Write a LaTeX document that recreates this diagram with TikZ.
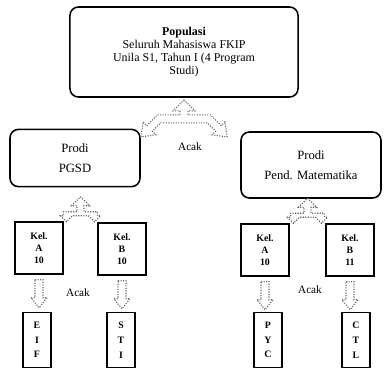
\documentclass[tikz,border=0pt]{standalone}
\usepackage{fontspec}
\setmainfont{Liberation Serif}
\usetikzlibrary{arrows.meta,positioning,calc}

\begin{document}
\begin{tikzpicture}[x=0.025cm, y=-0.025cm,
  popbox/.style={draw, line width=1.1pt, rounded corners=6pt, minimum width=5.7cm,
    minimum height=2.25cm, align=center, font=\fontsize{8.5}{9.3}\selectfont, inner sep=2pt},
  prodi/.style={draw, line width=1.1pt, rounded corners=6pt, align=center,
    font=\fontsize{9}{14}\selectfont, inner sep=2pt},
  kel/.style={draw, line width=1pt, minimum width=1.2cm, minimum height=1.3cm,
    align=center, font=\fontsize{7}{8.5}\selectfont\bfseries, inner sep=1pt},
  grp/.style={draw, line width=1.1pt, minimum width=0.7cm, minimum height=1.38cm,
    align=center, font=\fontsize{7}{10.5}\selectfont\bfseries, inner sep=1pt},
  hollow/.style={draw=black!60, densely dotted, line width=0.8pt, fill=white},
  lbl/.style={font=\fontsize{8}{9}\selectfont},
  dnarr/.pic={\draw[hollow] (-4,0) -- (4,0) -- (4,18) -- (8,18) -- (0,28)
    -- (-8,18) -- (-4,18) -- cycle;},
  splitarr/.pic={\draw[hollow] (0,0) -- (9,9) -- (3.5,9) -- (3.5,15) -- (17,15)
    -- (17,19) -- (20,19) -- (14,25) -- (8,19) -- (-8,19) -- (-14,25) -- (-20,19)
    -- (-17,19) -- (-17,15) -- (-3.5,15) -- (-3.5,9) -- (-9,9) -- cycle;},
  triarr/.pic={\draw[hollow] (0,0) -- (11,11) -- (4,11) -- (4,15) -- (26.6,15)
    -- (37.3,25.7) -- (40.9,22.1) -- (43,37) -- (28.1,34.9) -- (31.7,31.3)
    -- (23.4,23) -- (-23.4,23) -- (-31.7,31.3) -- (-28.1,34.9) -- (-43,37)
    -- (-40.9,22.1) -- (-37.3,25.7) -- (-26.6,15) -- (-4,15) -- (-4,11)
    -- (-11,11) -- cycle;},
]
  \useasboundingbox (0,0) rectangle (384,370);

  % --- population and the two study programmes ------------------------
  \node[popbox] (pop) at (184,52) {\textbf{Populasi}\\ Seluruh Mahasiswa FKIP\\
    Unila S1, Tahun I (4 Program\\ Studi)};
  \node[prodi, minimum width=3.25cm, minimum height=1.43cm] (pgsd) at (75,158) {Prodi\\ PGSD};
  \node[prodi, minimum width=3.5cm, minimum height=1.65cm] (pmat) at (311,165) {Prodi\\ Pend. Matematika};
  \pic at ([yshift=-1.5pt]pop.south) {triarr};
  \node[lbl] (acak1) at (190,147) {Acak};

  % --- classes of each programme ---------------------------------------
  \node[kel] (kA) at (39,248) {Kel.\\ A\\ 10};
  \node[kel] (kB) at (122,249) {Kel.\\ B\\ 10};
  \node[kel] (mA) at (265,250) {Kel.\\ A\\ 10};
  \node[kel] (mB) at (350,250) {Kel.\\ B\\ 11};
  \pic at ($(kA.north east)!0.5!(kB.north west)+(0,-25)$) {splitarr};
  \pic at ($(mA.north east)!0.5!(mB.north west)+(0,-25)$) {splitarr};

  % --- random assignment to the groups ---------------------------------
  \node[grp] (g1) at (37,340) {E\\ I\\ F};
  \node[grp] (g2) at (121,340) {S\\ T\\ I};
  \node[grp] (g3) at (268,340) {P\\ Y\\ C};
  \node[grp] (g4) at (356,340) {C\\ T\\ L};
  \foreach \k in {kA,kB,mA,mB}
    \pic at ($(\k.south)+(0,5)$) {dnarr};
  \node[lbl] (acak2) at (78,293) {Acak};
  \node[lbl] (acak3) at (310,290) {Acak};
\end{tikzpicture}
\end{document}
